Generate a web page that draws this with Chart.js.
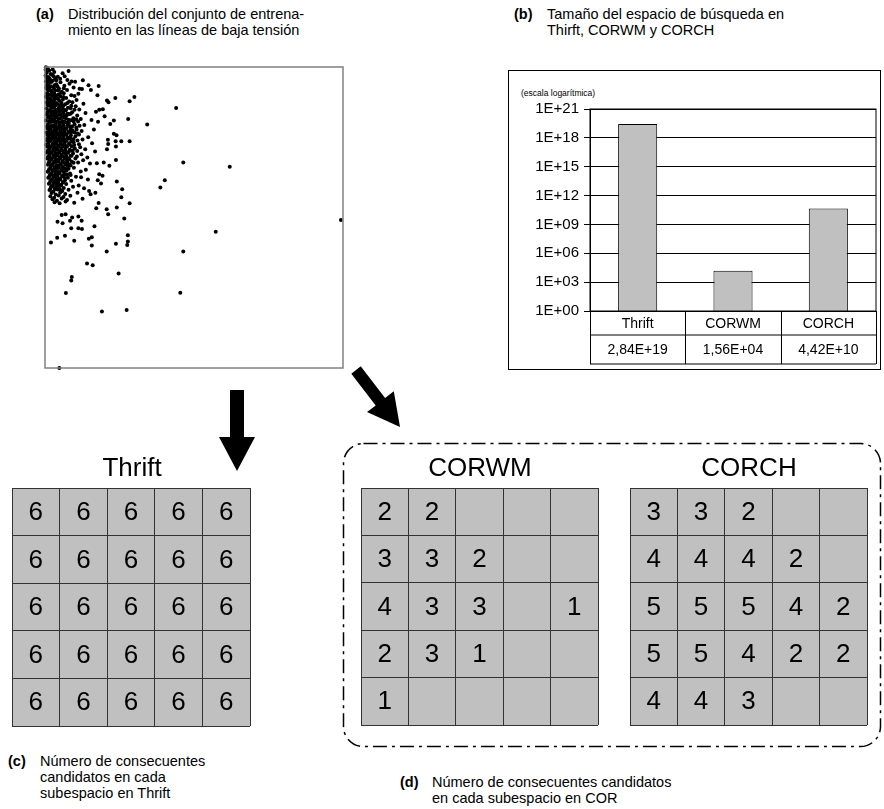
<!DOCTYPE html>
<html>
<head>
<meta charset="utf-8">
<script src="https://cdn.jsdelivr.net/npm/chart.js@4.4.1/dist/chart.umd.min.js"></script>
<style>
  body { margin: 0; background: #fff; }
  #page { position: relative; width: 884px; height: 809px; font-family: "Liberation Sans", Arial, sans-serif; color: #000; overflow: hidden; }
  .lbl, .txt { position: absolute; font-size: 14.5px; line-height: 16px; white-space: nowrap; }
  .lbl { font-weight: bold; }
  .title { position: absolute; font-size: 26px; line-height: 28px; width: 240px; text-align: center; }
  canvas { position: absolute; }
  #boxB { position: absolute; left: 508px; top: 70px; width: 371px; height: 298px; border: 1px solid #000; }
  #logNote { position: absolute; left: 12px; top: 17px; font-size: 8.5px; }
  svg { position: absolute; left: 0; top: 0; }
</style>
</head>
<body>
<div id="page">
  <div class="lbl" style="left:36px;top:6px">(a)</div>
  <div class="txt" style="left:68px;top:6px">Distribución del conjunto de entrena-<br>miento en las líneas de baja tensión</div>
  <div class="lbl" style="left:514px;top:6px">(b)</div>
  <div class="txt" style="left:547px;top:6px">Tamaño del espacio de búsqueda en<br>Thirft, CORWM y CORCH</div>
  <div class="lbl" style="left:8px;top:753px">(c)</div>
  <div class="txt" style="left:40px;top:753px">Número de consecuentes<br>candidatos en cada<br>subespacio en Thrift</div>
  <div class="lbl" style="left:400px;top:774px">(d)</div>
  <div class="txt" style="left:432px;top:774px">Número de consecuentes candidatos<br>en cada subespacio en COR</div>

  <canvas id="scatter" width="308" height="311" style="left:40px;top:62px"></canvas>

  <div id="boxB">
    <div id="logNote">(escala logarítmica)</div>
    <canvas id="bars" width="371" height="298" style="left:0;top:0"></canvas>
  </div>

  <svg width="884" height="809">
    <polygon points="230,390 244,390 244,437 255,437 237,471 219,437 230,437" fill="#000"/>
    <polygon points="360.7,366.3 385.1,398 393.8,391.3 400,427 367,412.1 375.7,405.4 351.3,373.7" fill="#000"/>
    <rect x="343.5" y="443.5" width="537" height="303" rx="20" ry="20" fill="none" stroke="#000" stroke-width="1.5" stroke-dasharray="14 5 3 5"/>
  </svg>

  <div class="title" style="left:12px;top:453px">Thrift</div>
  <div class="title" style="left:360px;top:453px">CORWM</div>
  <div class="title" style="left:629px;top:453px">CORCH</div>
  <canvas id="gThrift" width="240" height="240" style="left:11px;top:487px"></canvas>
  <canvas id="gCorwm" width="239" height="239" style="left:360px;top:487px"></canvas>
  <canvas id="gCorch" width="239" height="239" style="left:629px;top:487px"></canvas>
</div>
<script>
Chart.defaults.font.family = '"Liberation Sans", Arial, sans-serif';
Chart.defaults.color = '#000';
Chart.defaults.animation = false;

// (a) training set, unitless 0-100 axes
const outlierPoints = [
  [44,86.4],[34.3,80.9],[30,90],[28.4,88.6],[23.6,89.7],[21.3,88.3],[20.8,88.9],[27.9,82.7],
  [46.4,68.3],[62,66.9],[40.2,62.4],[38.7,60],[99.3,49.2],[57.3,45.3],[46.4,38.7],[45.4,25],
  [27.4,19.3],[19.1,18.8],[7,24.9],[24.7,31.4],[14.1,34.7],[16,34.1],[9,30.2],[8.8,29.1],[4.8,0],
  [20.7,38.7],[23.8,41.3],[27.8,42],[27.6,40.9],[27.8,44.1],[15.7,40.7],[14.7,42.9],[15.7,43.4],
  [9.8,42.3],[6.7,43.9],[4.1,43.3],[2,41.7],[11.2,46.4],[12.4,46.2],[12.3,48.9],[11.2,50.3],
  [8.8,46.4],[8.4,48.9],[9.1,50],[5.9,48.1],[4.2,48.6],[5.6,50.8],[6.9,51.1],[16.6,47.1],[26.6,49.7],
  [20.7,52.7],[21.2,51.1],[18,54.8],[17.2,53.1],[24.1,53.3],[28.4,54.7],[25.6,56.7],[25.9,59.4],
  [24.1,62],[16.9,58.2],[14.8,58.8],[18.8,61.3],[17.7,62.4],[18.2,64.4],[19.3,63.9],[21.6,67.2],
  [19.7,68.3],[17.4,68],[23.8,69.1],[20.8,72.7],[23.8,73.6],[23.7,75.3],[25.6,75.3],[28.4,75.3],
  [24,77.3],[23.1,77.8],[21.1,75.8],[21.2,74.4],[21.9,81.1],[23.1,82.2],[20,83.6],[17.8,81.8],
  [17.1,85.1],[18.2,85.8],[19.4,86],[18,93.7],[17.6,90.6],[15.4,92.4],[14.6,93.9],[12.7,95.6],
  [11.6,92.8],[8.9,95.2],[7.9,98.7],[6.6,96.9],[5.1,96.1]
];
const clusterPoints = [
  [0.3,99.9],[0.9,99.6],[0.2,99.1],[1.4,98.8],[2.6,99.2],[0.6,98.1],[1.9,97.7],[3.1,98.3],[5.9,97.9],
  [0.2,97.2],[1.1,96.7],[2.4,97.4],[4.3,96.8],[0.7,96.1],[1.7,95.8],[3.4,96.3],[7.5,95.7],
  [0.3,95.2],[1.3,94.7],[2.6,95.4],[5.2,94.9],[10.1,95.1],[0.9,94.1],[2,93.6],[3.8,94.3],[6.5,93.8],[8.2,94.4],
  [0.4,93.1],[1.5,92.6],[2.9,93.3],[4.7,92.8],[9.6,93.2],[12.4,92.7],[1.1,92.1],[2.3,91.7],[3.5,92.3],[5.6,91.8],[7.4,92.4],
  [0.6,91.2],[1.9,90.7],[3.1,91.4],[4.4,90.8],[6.3,91.3],[8.8,90.6],[11.2,91.1],
  [0.3,90.1],[1.4,89.6],[2.6,90.3],[3.9,89.8],[5.2,90.2],[7.1,89.7],[9.9,90.4],
  [1,89.1],[2.2,88.6],[3.3,89.3],[4.8,88.8],[6,89.2],[8.1,88.5],[10.6,89],
  [0.5,88.2],[1.7,87.7],[2.9,88.4],[4.1,87.8],[5.5,88.1],[6.8,87.6],[9.2,88.3],[12.9,87.8],
  [1.2,87.1],[2.4,86.6],[3.6,87.3],[4.9,86.8],[6.2,87.2],[7.7,86.5],[10.3,87],
  [0.4,86.2],[1.8,85.7],[3,86.4],[4.3,85.8],[5.7,86.1],[7,85.6],[8.6,86.3],[11.5,85.9],
  [1,85.1],[2.1,84.6],[3.4,85.3],[4.7,84.8],[6.1,85.2],[7.5,84.5],[9.1,85],[13.6,84.7],
  [0.6,84.2],[1.6,83.7],[2.8,84.4],[4,83.8],[5.3,84.1],[6.6,83.6],[8,84.3],[10.8,83.9],
  [1.3,83.1],[2.5,82.6],[3.7,83.3],[5,82.8],[6.4,83.2],[7.9,82.5],[9.5,83],[12,82.7],
  [0.3,82.2],[1.9,81.7],[3.1,82.4],[4.4,81.8],[5.8,82.1],[7.2,81.6],[8.7,82.3],[11.1,81.9],[15.6,82.4],
  [1,81.1],[2.3,80.6],[3.5,81.3],[4.8,80.8],[6.1,81.2],[7.5,80.5],[9.9,81],[13.2,80.7],
  [0.7,80.2],[1.7,79.7],[2.9,80.4],[4.2,79.8],[5.5,80.1],[6.9,79.6],[8.4,80.3],[10.5,79.9],
  [1.4,79.1],[2.6,78.6],[3.8,79.3],[5.1,78.8],[6.4,79.2],[7.8,78.5],[9.2,79],[12.3,78.7],[16.4,79.2],
  [0.5,78.2],[2,77.7],[3.2,78.4],[4.5,77.8],[5.9,78.1],[7.3,77.6],[8.8,78.3],[11,77.9],
  [1.1,77.1],[2.4,76.6],[3.6,77.3],[4.9,76.8],[6.2,77.2],[7.6,76.5],[10.2,77],[14.5,76.7],
  [0.8,76.2],[1.8,75.7],[3,76.4],[4.3,75.8],[5.6,76.1],[7,75.6],[8.5,76.3],[12.6,75.9],
  [1.3,75.1],[2.7,74.6],[3.9,75.3],[5.2,74.8],[6.6,75.2],[8,74.5],[9.6,75],[15.8,74.7],
  [0.4,74.2],[2.1,73.7],[3.3,74.4],[4.6,73.8],[5.9,74.1],[7.4,73.6],[11.4,74.3],
  [1.5,73.1],[2.8,72.6],[4,73.3],[5.4,72.8],[6.8,73.2],[8.3,72.5],[10,73],[13.5,72.7],
  [0.9,72.2],[2.2,71.7],[3.5,72.4],[4.8,71.8],[6.2,72.1],[7.7,71.6],[9.3,72.3],[16.8,71.9],
  [1.6,71.1],[2.9,70.6],[4.2,71.3],[5.5,70.8],[7,71.2],[8.6,70.5],[12.2,71],
  [1,70.2],[2.3,69.7],[3.6,70.4],[5,69.8],[6.4,70.1],[7.9,69.6],[10.7,70.3],[14.2,69.9],
  [1.7,69.1],[3,68.6],[4.4,69.3],[5.8,68.8],[7.3,69.2],[9,68.5],[12.8,69],
  [1.2,68.2],[2.5,67.7],[3.8,68.4],[5.2,67.8],[6.7,68.1],[8.2,67.6],[11.1,68.3],[15.1,67.9],
  [1.9,67.1],[3.2,66.6],[4.6,67.3],[6,66.8],[7.6,67.2],[9.7,66.5],
  [1.4,66.1],[2.7,65.6],[4,66.3],[5.4,65.8],[6.9,66.2],[13.7,65.9],
  [0.9,65.2],[2.1,64.7],[3.4,65.4],[4.8,64.8],[6.3,65.1],[8.4,64.6],[12,65.3],
  [1.6,64.1],[2.9,63.6],[4.2,64.3],[5.7,63.8],[7.4,64.2],[10.4,63.5],
  [1.1,63.2],[2.4,62.7],[3.7,63.4],[5.1,62.8],[6.7,63.1],[14.4,62.6],[12.1,63.4],
  [1.8,62.1],[3.1,61.6],[4.5,62.3],[6,61.8],[8.8,62.2],
  [1.3,61.2],[2.6,60.7],[3.9,61.4],[5.4,60.8],[7.1,61.1],[11.3,60.6],
  [2,60.1],[3.3,59.6],[4.7,60.3],[6.3,59.8],[9.4,60.2],[13.1,59.7],
  [1.5,59.1],[2.8,58.6],[4.2,59.3],[5.8,58.8],[7.9,59.2],
  [2.2,58.1],[3.6,57.6],[5.1,58.3],[6.8,57.8],[10.9,58.2],[15.3,57.7],
  [1.8,57.1],[3.1,56.6],[4.6,57.3],[6.2,56.8],[8.5,57.2],
  [2.5,56.1],[4,55.6],[5.6,56.3],[7.4,55.8],[12.6,56.2],
  [3.2,55.1],[4.9,54.7],[6.9,55.3],[9.8,54.9]
];
// extra points filling the dense core
const corePoints = [
  [0.5,96.6],[1.5,96.3],[2.9,96.9],[0.9,95.5],[2.1,95],[3.8,95.6],
  [0.6,93.9],[1.6,93.4],[3.2,93.9],[4.2,93.5],[0.9,92.6],[1.9,92.2],[3,92.7],[4.4,92.2],[6.3,92.9],
  [1.2,90.9],[2.4,91.2],[3.6,90.5],[5,91],[0.8,89.8],[2,89.3],[3.2,89.9],[4.4,89.4],[6.2,90],
  [1.5,88.1],[2.6,87.9],[3.7,88],[5.1,87.4],[7.5,88],[0.9,87.4],[2,86.9],[3.2,87],[4.6,86.4],[5.9,86.7],[8.8,87.1],
  [1.3,85.6],[2.6,85.2],[3.8,85.6],[5.2,85.4],[6.6,85.7],[9.9,85.8],[0.8,84.8],[2.4,84],[3.6,84.7],[4.9,84.1],[6.2,84.6],[7.2,83.9],[8.6,84.5],
  [1,83.2],[2,82.9],[3.2,83.6],[4.4,82.9],[5.7,83.4],[7,83],[10.5,82.6],[1.4,82],[2.6,81.9],[3.9,81.8],[5.2,81.5],[6.6,81.8],[8,81.4],[9.6,81.9],
  [1.2,80.4],[2.4,80.4],[3.6,80.5],[4.9,80.4],[6.2,80.6],[7.6,80.4],[9.1,80.2],[11.6,80.5],
  [0.9,79.5],[2,79.5],[3.3,79.4],[4.5,79.6],[5.8,79.5],[7.1,79.5],[8.5,79.4],[10.6,79.2],
  [1.3,78.4],[2.6,78.4],[3.8,78.6],[5.2,78.4],[6.5,78.3],[8,78.4],[9.9,78.2],
  [0.8,77.5],[1.8,77.5],[3,77.4],[4.2,77.6],[5.5,77.5],[6.9,77.5],[8.7,77.3],[11.4,77.6],
  [1.4,76.4],[2.4,76.4],[3.7,76.5],[4.9,76.4],[6.3,76.3],[7.8,76.4],[9.6,76.1],
  [0.7,75.5],[2,75.5],[3.3,75.4],[4.6,75.6],[5.9,75.5],[7.3,75.5],[8.8,75.3],[10.9,75.6],
  [1.2,74.4],[2.7,74.4],[3.9,74.6],[5.3,74.4],[6.6,74.3],[8.3,74.4],[9.8,74.1],
  [0.8,73.5],[1.9,73.5],[3.1,73.4],[4.4,73.6],[5.8,73.5],[7.2,73.5],[8.9,73.7],[11.8,73.3],
  [1.4,72.4],[2.8,72.4],[4.1,72.6],[5.5,72.4],[6.9,72.3],[8.5,72.2],[10.8,72.1],
  [0.7,71.5],[2,71.5],[3.4,71.4],[4.8,71.6],[6.2,71.5],[7.7,71.5],[9.4,71.3],
  [1.5,70.4],[2.9,70.4],[4.3,70.6],[5.7,70.4],[7.2,70.3],[8.9,70.5],
  [0.9,69.5],[2.2,69.5],[3.6,69.4],[5.1,69.6],[6.6,69.5],[8.2,69.3],[10.2,69.6],
  [1.6,68.4],[3.1,68.4],[4.5,68.6],[6,68.4],[7.5,68.3],[9.6,68.2],
  [1,67.5],[2.4,67.5],[3.8,67.4],[5.3,67.6],[6.8,67.5],[8.6,67.3],
  [1.9,66.4],[3.3,66.4],[4.7,66.6],[6.2,66.4],[7.9,66.2],
  [1.2,65.5],[2.6,65.5],[4.1,65.4],[5.6,65.6],[7.2,65.5],
  [2,64.4],[3.4,64.4],[4.9,64.6],[6.5,64.4],[8.6,64.1],
  [1.4,63.5],[2.8,63.5],[4.3,63.4],[5.9,63.6],[7.7,63.2],
  [2.1,62.4],[3.6,62.4],[5.1,62.6],[6.7,62.4],
  [1.6,61.5],[3,61.5],[4.5,61.4],[6.1,61.6],
  [2.3,60.4],[3.8,60.4],[5.4,60.6],[1.8,59.5],[3.4,59.5],[5,59.4]
];

// (b) search space size
const methods = ['Thrift', 'CORWM', 'CORCH'];
const searchSpace = [2.84e19, 1.56e4, 4.42e10];
const logTicks = [1e0, 1e3, 1e6, 1e9, 1e12, 1e15, 1e18, 1e21];

// (c), (d) candidate consequents per subspace
const gridColumns = ['1', '2', '3', '4', '5'];
const thriftGrid = [
  [6, 6, 6, 6, 6],
  [6, 6, 6, 6, 6],
  [6, 6, 6, 6, 6],
  [6, 6, 6, 6, 6],
  [6, 6, 6, 6, 6]
];
const corwmGrid = [
  [2, 2, null, null, null],
  [3, 3, 2, null, null],
  [4, 3, 3, null, 1],
  [2, 3, 1, null, null],
  [1, null, null, null, null]
];
const corchGrid = [
  [3, 3, 2, null, null],
  [4, 4, 4, 2, null],
  [5, 5, 5, 4, 2],
  [5, 5, 4, 2, 2],
  [4, 4, 3, null, null]
];

function sciLabel(v) {
  const [m, e] = v.toExponential(2).split('e');
  return m.replace('.', ',') + 'E' + e[0] + e.slice(1).padStart(2, '0');
}

const framePlugin = {
  id: 'frame',
  afterDraw(chart) {
    const { ctx, chartArea: a } = chart;
    ctx.save();
    ctx.strokeStyle = '#808080';
    ctx.lineWidth = 1.5;
    ctx.strokeRect(a.left, a.top, a.width, a.height);
    ctx.restore();
  }
};

new Chart(document.getElementById('scatter'), {
  type: 'scatter',
  data: {
    datasets: [{
      data: outlierPoints.concat(clusterPoints, corePoints).map(p => ({ x: p[0], y: p[1] })),
      backgroundColor: '#000',
      borderWidth: 0,
      pointRadius: 2,
      clip: false
    }]
  },
  options: {
    responsive: false,
    layout: { padding: 5 },
    plugins: { legend: { display: false }, tooltip: { enabled: false } },
    scales: {
      x: { display: false, min: 0, max: 100 },
      y: { display: false, min: 0, max: 100 }
    }
  },
  plugins: [framePlugin]
});

const tablePlugin = {
  id: 'table',
  afterDraw(chart) {
    const { ctx, chartArea: a, scales: { x } } = chart;
    const w = x.getPixelForValue(1) - x.getPixelForValue(0);
    const y0 = a.bottom, y1 = y0 + 24, y2 = y1 + 29;
    ctx.save();
    ctx.strokeStyle = '#000';
    ctx.lineWidth = 1;
    ctx.strokeRect(a.left, a.top, a.width, a.height);
    ctx.beginPath();
    ctx.moveTo(a.left, y1); ctx.lineTo(a.right, y1);
    ctx.moveTo(a.left, y2); ctx.lineTo(a.right, y2);
    for (let i = 0; i <= methods.length; i++) {
      const px = Math.round(x.getPixelForValue(0) - w / 2 + i * w) + 0.5;
      ctx.moveTo(px, y0); ctx.lineTo(px, y2);
    }
    ctx.stroke();
    ctx.fillStyle = '#000';
    ctx.font = '14px "Liberation Sans", Arial, sans-serif';
    ctx.textAlign = 'center';
    ctx.textBaseline = 'middle';
    methods.forEach((m, i) => {
      const cx = x.getPixelForValue(i);
      ctx.fillText(m, cx, (y0 + y1) / 2 + 1);
      ctx.fillText(sciLabel(searchSpace[i]), cx, (y1 + y2) / 2 + 1);
    });
    ctx.restore();
  }
};

new Chart(document.getElementById('bars'), {
  type: 'bar',
  data: {
    labels: methods,
    datasets: [{
      data: searchSpace,
      backgroundColor: '#c0c0c0',
      borderColor: '#000',
      borderWidth: 1,
      barPercentage: 0.41,
      categoryPercentage: 1
    }]
  },
  options: {
    responsive: false,
    layout: { padding: { top: 38, right: 4, bottom: 58, left: 0 } },
    plugins: { legend: { display: false }, tooltip: { enabled: false } },
    scales: {
      x: { display: false },
      y: {
        type: 'logarithmic',
        min: 1,
        max: 1e21,
        afterBuildTicks(s) { s.ticks = logTicks.map(v => ({ value: v })); },
        afterFit(s) { s.width = 81; },
        ticks: {
          font: { size: 15 },
          padding: 5,
          callback: v => '1E+' + String(Math.round(Math.log10(v))).padStart(2, '0')
        },
        grid: { color: '#000', lineWidth: 1, tickLength: 6 },
        border: { color: '#000' }
      }
    }
  },
  plugins: [tablePlugin]
});

function makeGrid(id, grid) {
  const labelPlugin = {
    id: 'cellLabels',
    afterDraw(chart) {
      const { ctx } = chart;
      ctx.save();
      ctx.fillStyle = '#000';
      ctx.font = '26px "Liberation Sans", Arial, sans-serif';
      ctx.textAlign = 'center';
      ctx.textBaseline = 'middle';
      grid.forEach((row, r) => {
        chart.getDatasetMeta(r).data.forEach((el, c) => {
          if (row[c] != null) ctx.fillText(String(row[c]), el.x, (el.y + el.base) / 2 + 1);
        });
      });
      ctx.restore();
    }
  };
  new Chart(document.getElementById(id), {
    type: 'bar',
    data: {
      labels: gridColumns,
      datasets: grid.map(row => ({
        data: row.map(() => 1),
        backgroundColor: '#c0c0c0',
        borderWidth: 0,
        barPercentage: 1,
        categoryPercentage: 1
      }))
    },
    options: {
      responsive: false,
      layout: { padding: 1 },
      plugins: { legend: { display: false }, tooltip: { enabled: false } },
      scales: {
        x: {
          stacked: true,
          ticks: { display: false },
          grid: { offset: true, color: '#333', drawTicks: false, z: 1 },
          border: { display: false },
          afterFit(s) { s.height = 0; }
        },
        y: {
          stacked: true,
          reverse: true,
          min: 0,
          max: 5,
          ticks: { display: false, stepSize: 1 },
          grid: { color: '#333', drawTicks: false, z: 1 },
          border: { display: false },
          afterFit(s) { s.width = 0; }
        }
      }
    },
    plugins: [labelPlugin]
  });
}

makeGrid('gThrift', thriftGrid);
makeGrid('gCorwm', corwmGrid);
makeGrid('gCorch', corchGrid);
</script>
</body>
</html>
